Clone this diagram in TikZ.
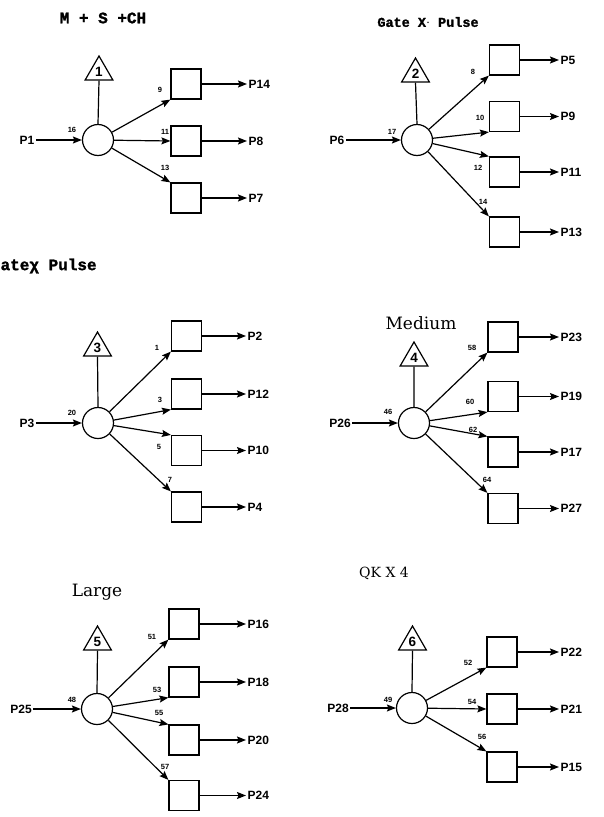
\documentclass[tikz,border=0pt]{standalone}
\usepackage{fontspec}
\usetikzlibrary{arrows.meta,shapes.geometric}
\setmainfont{Liberation Sans}
\newfontfamily\twfont{Liberation Mono}[FakeBold=1.5]
\newfontfamily\serfont{DejaVu Serif}
\begin{document}
\begin{tikzpicture}[x=1pt,y=-1pt,
  line width=1.2pt,
  arr/.style={-{Stealth[length=9pt,width=7pt,inset=1.5pt]}},
  hub/.style={circle,draw,minimum size=31pt,inner sep=0pt},
  tri/.style={regular polygon,regular polygon sides=3,draw,minimum size=32pt,inner sep=0pt,font=\bfseries\fontsize{13.5}{13.5}\selectfont},
  sq/.style={rectangle,draw,minimum size=30pt,inner sep=0pt},
  plab/.style={font=\bfseries\fontsize{12}{12}\selectfont,inner sep=1pt},
  num/.style={font=\bfseries\fontsize{7.5}{8}\selectfont,inner sep=0pt},
  ttl/.style={font=\twfont\bfseries,inner sep=0pt},
  stl/.style={font=\serfont\fontsize{17}{18}\selectfont,inner sep=0pt}]
\useasboundingbox (0,0) rectangle (603,817);

% ---------------- Panel 1 ----------------
\node[ttl,font=\twfont\bfseries\fontsize{16}{16}\selectfont] (t1) at (103,18) {M + S +CH};
\node[tri] (tr1) at (99,72) {1};
\node[hub] (c1) at (98,140) {};
\node[plab] (in1) at (27,140) {P1};
\node[sq] (b1a) at (186,84) {};
\node[sq] (b1b) at (186,141) {};
\node[sq] (b1c) at (186,198) {};
\node[plab,anchor=west] (o1a) at (247,84) {P14};
\node[plab,anchor=west] (o1b) at (247,141) {P8};
\node[plab,anchor=west] (o1c) at (247,198) {P7};
\node[num] (n16) at (72,130) {16};
\node[num] (n9) at (160,90) {9};
\node[num] (n11) at (165,132) {11};
\node[num] (n13) at (165,168) {13};
\draw (tr1.south) -- (c1.north);
\draw[arr] (in1) -- (c1);
\draw[arr] (c1) -- (b1a.south west);
\draw[arr] (c1) -- (b1b.west);
\draw[arr] (c1) -- (b1c.north west);
\draw[arr] (b1a.east) -- (o1a.west);
\draw[arr] (b1b.east) -- (o1b.west);
\draw[arr] (b1c.east) -- (o1c.west);

% ---------------- Panel 2 ----------------
\node[ttl,font=\twfont\bfseries\fontsize{13.5}{14}\selectfont] (t2) at (428,22) {Gate X$\cdot$ Pulse};
\node[tri] (tr2) at (415.5,74) {2};
\node[hub] (c2) at (417,140) {};
\node[plab] (in2) at (337,140) {P6};
\node[sq] (b2a) at (504.5,60) {};
\node[sq] (b2b) at (504.5,116.5) {};
\node[sq] (b2c) at (504.5,172) {};
\node[sq] (b2d) at (504.5,232) {};
\node[plab,anchor=west] (o2a) at (559,60) {P5};
\node[plab,anchor=west] (o2b) at (559,116.5) {P9};
\node[plab,anchor=west] (o2c) at (559,172) {P11};
\node[plab,anchor=west] (o2d) at (559,232) {P13};
\node[num] (n17) at (392,132) {17};
\node[num] (n8) at (473,72) {8};
\node[num] (n10) at (480,118) {10};
\node[num] (n12) at (478,168) {12};
\node[num] (n14) at (483,202) {14};
\draw (tr2.south) -- (c2.north);
\draw[arr] (in2) -- (c2);
\draw[arr] (c2) -- (b2a.south west);
\draw[arr] (c2) -- (b2b.south west);
\draw[arr] (c2) -- (b2c.north west);
\draw[arr] (c2) -- (b2d.north west);
\draw[arr] (b2a.east) -- (o2a.west);
\draw[arr] (b2b.east) -- (o2b.west);
\draw[arr] (b2c.east) -- (o2c.west);
\draw[arr] (b2d.east) -- (o2d.west);

% ---------------- Panel 3 ----------------
\node[ttl,font=\twfont\bfseries\fontsize{16}{16}\selectfont,anchor=west] (t3) at (0,266) {ateχ Pulse};
\node[tri] (tr3) at (97.5,348) {3};
\node[hub] (c3) at (98,423) {};
\node[plab] (in3) at (27,423) {P3};
\node[sq] (b3a) at (186.5,336) {};
\node[sq] (b3b) at (186.5,394) {};
\node[sq] (b3c) at (186.5,450.5) {};
\node[sq] (b3d) at (186.5,507) {};
\node[plab,anchor=west] (o3a) at (246,336) {P2};
\node[plab,anchor=west] (o3b) at (246,394) {P12};
\node[plab,anchor=west] (o3c) at (246,450.5) {P10};
\node[plab,anchor=west] (o3d) at (246,507) {P4};
\node[num] (n20) at (72,413) {20};
\node[num] (n1) at (157,348) {1};
\node[num] (n3) at (160,400) {3};
\node[num] (n5) at (159,447) {5};
\node[num] (n7) at (170,480) {7};
\draw (tr3.south) -- (c3.north);
\draw[arr] (in3) -- (c3);
\draw[arr] (c3) -- (b3a.south west);
\draw[arr] (c3) -- (b3b.south west);
\draw[arr] (c3) -- (b3c.north west);
\draw[arr] (c3) -- (b3d.north west);
\draw[arr] (b3a.east) -- (o3a.west);
\draw[arr] (b3b.east) -- (o3b.west);
\draw[arr] (b3c.east) -- (o3c.west);
\draw[arr] (b3d.east) -- (o3d.west);

% ---------------- Panel 4 ----------------
\node[stl] (t4) at (421,323) {Medium};
\node[tri] (tr4) at (414,358) {4};
\node[hub] (c4) at (414,423) {};
\node[plab] (in4) at (340,423) {P26};
\node[sq] (b4a) at (503,337) {};
\node[sq] (b4b) at (503,396.5) {};
\node[sq] (b4c) at (503,452) {};
\node[sq] (b4d) at (503,508.5) {};
\node[plab,anchor=west] (o4a) at (559,337) {P23};
\node[plab,anchor=west] (o4b) at (559,396.5) {P19};
\node[plab,anchor=west] (o4c) at (559,452) {P17};
\node[plab,anchor=west] (o4d) at (559,508.5) {P27};
\node[num] (n46) at (388,412) {46};
\node[num] (n58) at (472,348) {58};
\node[num] (n60) at (470,402) {60};
\node[num] (n62) at (473,430) {62};
\node[num] (n64) at (487,480) {64};
\draw (tr4.south) -- (c4.north);
\draw[arr] (in4) -- (c4);
\draw[arr] (c4) -- (b4a.south west);
\draw[arr] (c4) -- (b4b.south west);
\draw[arr] (c4) -- (b4c.north west);
\draw[arr] (c4) -- (b4d.north west);
\draw[arr] (b4a.east) -- (o4a.west);
\draw[arr] (b4b.east) -- (o4b.west);
\draw[arr] (b4c.east) -- (o4c.west);
\draw[arr] (b4d.east) -- (o4d.west);

% ---------------- Panel 5 ----------------
\node[stl] (t5) at (97,592) {Large};
\node[tri] (tr5) at (97.5,642) {5};
\node[hub] (c5) at (97,709) {};
\node[plab] (in5) at (21,709) {P25};
\node[sq] (b5a) at (184,624) {};
\node[sq] (b5b) at (184,682) {};
\node[sq] (b5c) at (184,740) {};
\node[sq] (b5d) at (184,795.5) {};
\node[plab,anchor=west] (o5a) at (246,624) {P16};
\node[plab,anchor=west] (o5b) at (246,682) {P18};
\node[plab,anchor=west] (o5c) at (246,740) {P20};
\node[plab,anchor=west] (o5d) at (246,795.5) {P24};
\node[num] (n48) at (72,700) {48};
\node[num] (n51) at (152,637) {51};
\node[num] (n53) at (157,690) {53};
\node[num] (n55) at (159,713) {55};
\node[num] (n57) at (165,767) {57};
\draw (tr5.south) -- (c5.north);
\draw[arr] (in5) -- (c5);
\draw[arr] (c5) -- (b5a.south west);
\draw[arr] (c5) -- (b5b.south west);
\draw[arr] (c5) -- (b5c.north west);
\draw[arr] (c5) -- (b5d.north west);
\draw[arr] (b5a.east) -- (o5a.west);
\draw[arr] (b5b.east) -- (o5b.west);
\draw[arr] (b5c.east) -- (o5c.west);
\draw[arr] (b5d.east) -- (o5d.west);

% ---------------- Panel 6 ----------------
\node[font=\serfont\fontsize{14}{14}\selectfont,inner sep=0pt] (t6) at (384,573) {QK X 4};
\node[tri] (tr6) at (412.5,642) {6};
\node[hub] (c6) at (412,708) {};
\node[plab] (in6) at (338,708) {P28};
\node[sq] (b6a) at (502,652) {};
\node[sq] (b6b) at (502,709) {};
\node[sq] (b6c) at (502,767) {};
\node[plab,anchor=west] (o6a) at (559,652) {P22};
\node[plab,anchor=west] (o6b) at (559,709) {P21};
\node[plab,anchor=west] (o6c) at (559,767) {P15};
\node[num] (n49) at (388,700) {49};
\node[num] (n52) at (468,663) {52};
\node[num] (n54) at (472,702) {54};
\node[num] (n56) at (482,737) {56};
\draw (tr6.south) -- (c6.north);
\draw[arr] (in6) -- (c6);
\draw[arr] (c6) -- (b6a.south west);
\draw[arr] (c6) -- (b6b.west);
\draw[arr] (c6) -- (b6c.north west);
\draw[arr] (b6a.east) -- (o6a.west);
\draw[arr] (b6b.east) -- (o6b.west);
\draw[arr] (b6c.east) -- (o6c.west);
\end{tikzpicture}
\end{document}
